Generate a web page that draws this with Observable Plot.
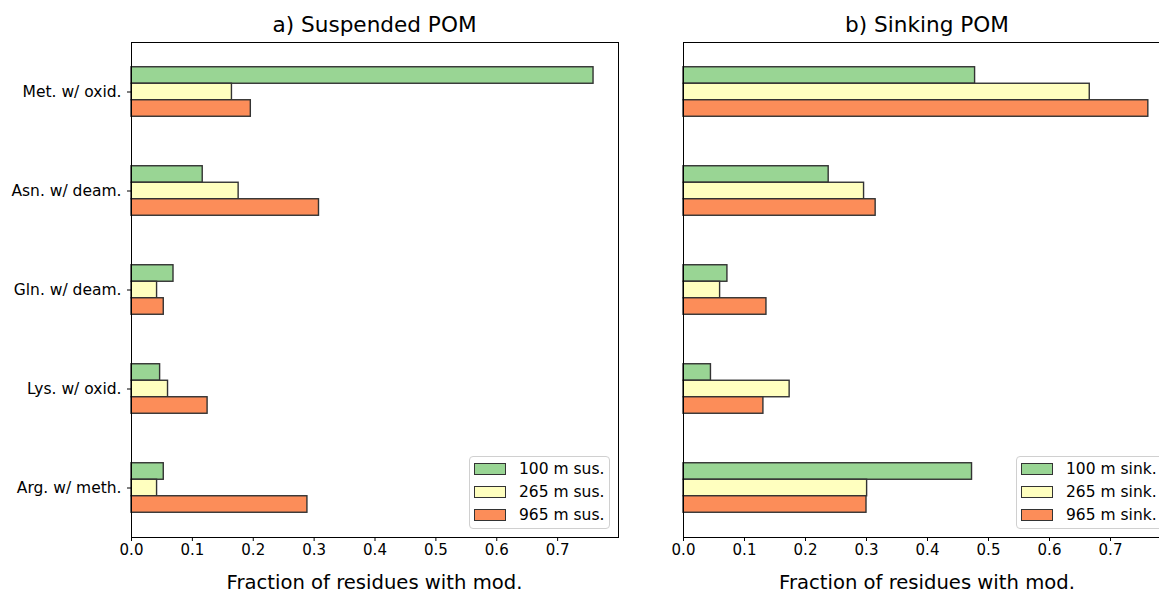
<!DOCTYPE html>
<html>
<head>
<meta charset="utf-8">
<script src="https://cdn.jsdelivr.net/npm/d3@7"></script>
<script src="https://cdn.jsdelivr.net/npm/@observablehq/plot@0.6"></script>
<style>
html, body { margin: 0; padding: 0; overflow: hidden; background: #fff; }
#wrap { position: relative; width: 1159px; height: 596px; overflow: hidden; font-family: "DejaVu Sans", sans-serif; color: #000; }
.panel { position: absolute; top: 0; }
.title { position: absolute; font-size: 21.6px; line-height: 24px; white-space: nowrap; transform: translateX(-50%); }
.xlabel { position: absolute; font-size: 19.6px; line-height: 20px; white-space: nowrap; transform: translateX(-50%); }
.legend { position: absolute; box-sizing: border-box; height: 73px; background: rgba(255,255,255,0.8); border: 1px solid #d0d0d0; border-radius: 4px; padding-top: 1px; white-space: nowrap; }
.legend .row { height: 23px; line-height: 23px; font-size: 15.5px; }
.legend .sw { display: inline-block; box-sizing: border-box; width: 32px; height: 12px; border: 1px solid #333; margin-left: 4px; margin-right: 13px; vertical-align: -1px; }
</style>
</head>
<body>
<div id="wrap"></div>
<script>
// ---- data ----
const categories = ["Met. w/ oxid.", "Asn. w/ deam.", "Gln. w/ deam.", "Lys. w/ oxid.", "Arg. w/ meth."];
const depths = ["100 m", "265 m", "965 m"];
const seriesColors = ["#99d594", "#ffffbf", "#fc8d59"];
const xTicks = [0, 0.1, 0.2, 0.3, 0.4, 0.5, 0.6, 0.7];

// a) Suspended POM
const sus100 = [0.759, 0.117, 0.069, 0.047, 0.053];
const sus265 = [0.165, 0.176, 0.042, 0.060, 0.042];
const sus965 = [0.196, 0.308, 0.053, 0.125, 0.289];
// b) Sinking POM
const sink100 = [0.478, 0.238, 0.072, 0.045, 0.473];
const sink265 = [0.666, 0.296, 0.060, 0.174, 0.301];
const sink965 = [0.762, 0.315, 0.136, 0.131, 0.300];

const panels = [
  { title: "a) Suspended POM", suffix: "sus.", series: [sus100, sus265, sus965], left: 0, marginLeft: 131, plotW: 487, marginRight: 22, yAxis: true, legendLeft: 469, legendW: 141 },
  { title: "b) Sinking POM", suffix: "sink.", series: [sink100, sink265, sink965], left: 640, marginLeft: 43, plotW: 488, marginRight: 20, yAxis: false, legendLeft: 1016, legendW: 160 }
];

const wrap = document.getElementById("wrap");
const nCat = categories.length;
const nSer = depths.length;
const groupW = 0.5;           // fraction of category step occupied by a group of bars
const barH = groupW / nSer;

for (const p of panels) {
  const rows = [];
  p.series.forEach((vals, j) => {
    vals.forEach((v, i) => {
      rows.push({ cat: categories[i], i, j, depth: depths[j], value: v,
                  y1: i - groupW / 2 + j * barH, y2: i - groupW / 2 + (j + 1) * barH });
    });
  });

  const marks = [
    Plot.rectX(rows, { x1: 0, x2: "value", y1: "y1", y2: "y2", fill: d => seriesColors[d.j], stroke: "#333", strokeWidth: 1.4 }),
    Plot.axisX({ ticks: xTicks, tickFormat: d3.format(".1f"), tickSize: 4, tickPadding: 3, fontSize: 15, label: null }),
    Plot.frame({ stroke: "#000", strokeWidth: 1 })
  ];
  if (p.yAxis) {
    marks.push(Plot.axisY({ ticks: d3.range(nCat), tickFormat: i => categories[i], tickSize: 4, tickPadding: 6, fontSize: 15.5, label: null }));
  }

  const chart = Plot.plot({
    width: p.marginLeft + p.plotW + p.marginRight,
    height: 596,
    marginTop: 42,
    marginBottom: 59,
    marginLeft: p.marginLeft,
    marginRight: p.marginRight,
    style: { fontFamily: "DejaVu Sans, sans-serif", background: "transparent", color: "#000" },
    x: { domain: [0, 0.8], label: null },
    y: { domain: [-0.5, nCat - 0.5], reverse: true, label: null, axis: null },
    marks
  });
  chart.classList.add("panel");
  chart.style.left = p.left + "px";
  wrap.appendChild(chart);

  const cx = p.left + p.marginLeft + p.plotW / 2;
  const t = document.createElement("div");
  t.className = "title"; t.textContent = p.title;
  t.style.left = cx + "px"; t.style.top = "13px";
  wrap.appendChild(t);

  const xl = document.createElement("div");
  xl.className = "xlabel"; xl.textContent = "Fraction of residues with mod.";
  xl.style.left = cx + "px"; xl.style.top = "573px";
  wrap.appendChild(xl);

  const lg = document.createElement("div");
  lg.className = "legend";
  lg.style.left = p.legendLeft + "px"; lg.style.top = "456px"; lg.style.width = p.legendW + "px";
  depths.forEach((d, j) => {
    const r = document.createElement("div");
    r.className = "row";
    const sw = document.createElement("span");
    sw.className = "sw"; sw.style.background = seriesColors[j];
    r.appendChild(sw);
    r.appendChild(document.createTextNode(d + " " + p.suffix));
    lg.appendChild(r);
  });
  wrap.appendChild(lg);
}
</script>
</body>
</html>
